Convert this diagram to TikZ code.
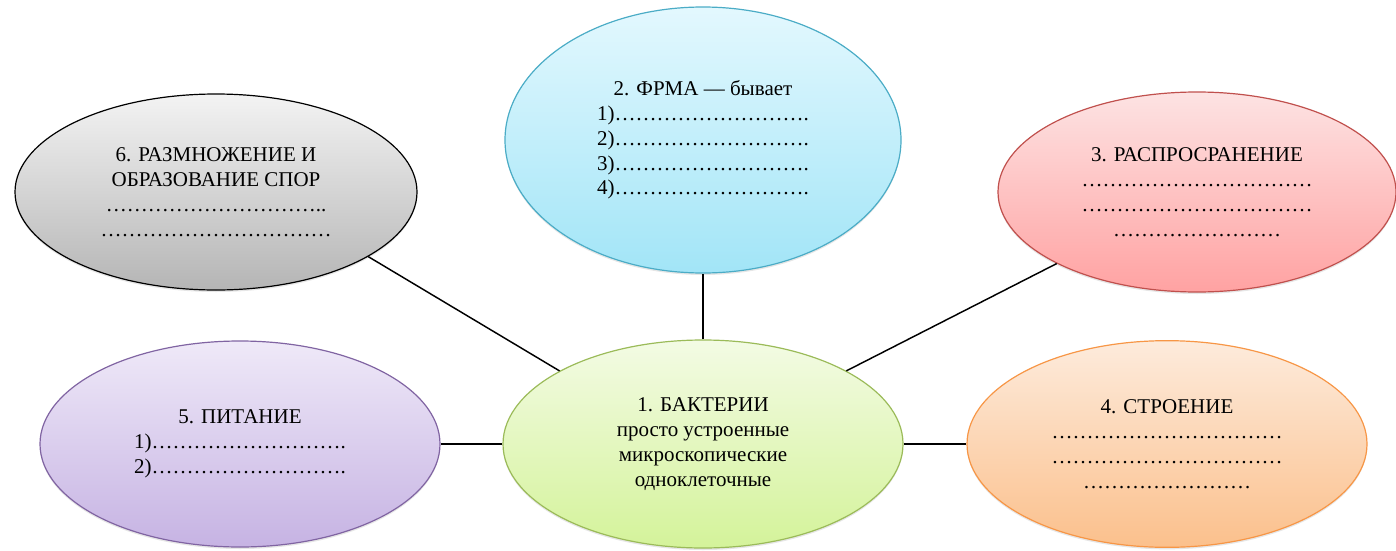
\documentclass[tikz,border=0pt]{standalone}
\usepackage{fontspec}
\setmainfont{Liberation Serif}
\usetikzlibrary{shapes.geometric,shadows}

\definecolor{grnline}{HTML}{9BBB59}
\definecolor{grntop}{HTML}{F3FBE4}
\definecolor{grnbot}{HTML}{D4F39A}
\definecolor{bluline}{HTML}{4BACC6}
\definecolor{blutop}{HTML}{E3F8FE}
\definecolor{blubot}{HTML}{A2E5F7}
\definecolor{redline}{HTML}{C0504D}
\definecolor{redtop}{HTML}{FDE3E3}
\definecolor{redbot}{HTML}{FFA2A2}
\definecolor{grytop}{HTML}{F3F3F3}
\definecolor{grybot}{HTML}{B5B5B5}
\definecolor{purline}{HTML}{8064A2}
\definecolor{purtop}{HTML}{EFE9F8}
\definecolor{purbot}{HTML}{C6B3E3}
\definecolor{orgline}{HTML}{F79646}
\definecolor{orgtop}{HTML}{FDEBDC}
\definecolor{orgbot}{HTML}{FBC08C}

\begin{document}
\begin{tikzpicture}[x=0.75pt,y=-0.75pt,
  oval/.style={ellipse, draw, inner sep=0pt, align=center, line width=0.9pt,
    font=\fontsize{15.75}{18.6}\selectfont,
    drop shadow={shadow xshift=0pt,shadow yshift=-1.5pt,opacity=.2}},
  link/.style={line width=1.1pt}]
\useasboundingbox (0,0) rectangle (1396,550);

% draw central node
\node[oval, draw=grnline, top color=grntop, bottom color=grnbot,
  minimum width=300pt, minimum height=156pt] (bact) at (703,444) {
  1. БАКТЕРИИ\\
  просто устроенные\\
  микроскопические\\
  одноклеточные
};

% draw outer nodes
\node[oval, draw=bluline, top color=blutop, bottom color=blubot,
  minimum width=297pt, minimum height=199.5pt] (forma) at (703,140) {
  2. ФРМА — бывает\\
  1)……………………….\\
  2)……………………….\\
  3)……………………….\\
  4)……………………….
};
\node[oval, draw=redline, top color=redtop, bottom color=redbot,
  minimum width=298.5pt, minimum height=150pt] (spread) at (1197,192) {
  3. РАСПРОСРАНЕНИЕ\\
  ……………………………\\
  ……………………………\\
  ……………………
};
\node[oval, draw=orgline, top color=orgtop, bottom color=orgbot,
  minimum width=300pt, minimum height=155pt] (struct) at (1167,444) {
  4. СТРОЕНИЕ\\
  ……………………………\\
  ……………………………\\
  ……………………
};
\node[oval, draw=purline, top color=purtop, bottom color=purbot,
  minimum width=300pt, minimum height=154.5pt] (food) at (240,444) {
  5. ПИТАНИЕ\\
  1)……………………….\\
  2)……………………….
};
\node[oval, draw=black, top color=grytop, bottom color=grybot,
  minimum width=301.5pt, minimum height=147pt] (spores) at (216,192) {
  6. РАЗМНОЖЕНИЕ И\\
  ОБРАЗОВАНИЕ СПОР\\
  …………………………..\\
  ……………………………
};

% draw lines between nodes
\draw[link] (bact) -- (forma);
\draw[link] (bact) -- (spread);
\draw[link] (bact) -- (struct);
\draw[link] (bact) -- (food);
\draw[link] (bact.153) -- (spores.-23);
\end{tikzpicture}
\end{document}
